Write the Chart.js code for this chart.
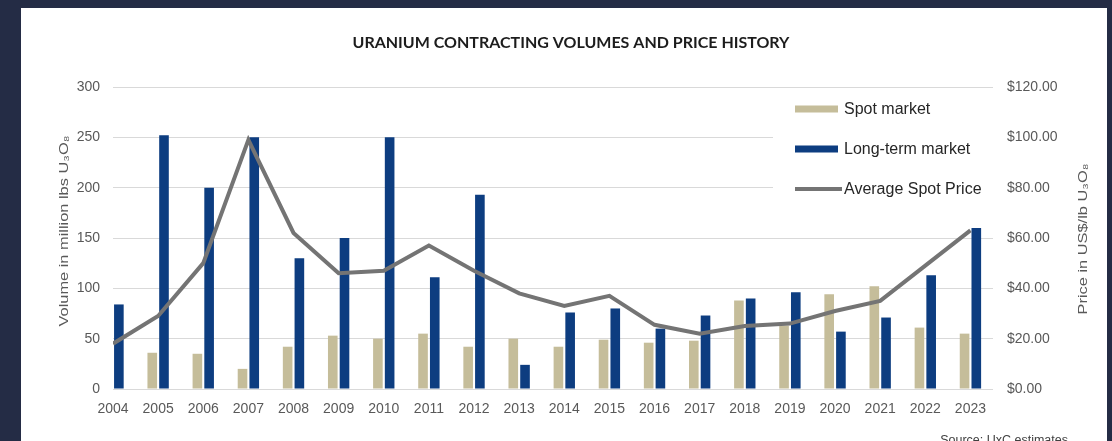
<!DOCTYPE html>
<html>
<head>
<meta charset="utf-8">
<script src="https://cdn.jsdelivr.net/npm/chart.js@4.4.1/dist/chart.umd.min.js"></script>
<style>
  html, body { margin: 0; padding: 0; background: #242c45; }
  #wrap { width: 1112px; height: 441px; }
</style>
</head>
<body>
<div id="wrap"><canvas id="c" width="1112" height="441"></canvas></div>
<script>
// ---- data ----
const years = [2004, 2005, 2006, 2007, 2008, 2009, 2010, 2011, 2012, 2013,
               2014, 2015, 2016, 2017, 2018, 2019, 2020, 2021, 2022, 2023];
const spotMarket = [null, 36, 35, 20, 42, 53, 50, 55, 42, 50,
                    42, 49, 46, 48, 88, 63, 94, 102, 61, 55];
const longTermMarket = [84, 252, 200, 250, 130, 150, 250, 111, 193, 24,
                        76, 80, 60, 73, 90, 96, 57, 71, 113, 160];
const avgSpotPrice = [18, 29, 50, 99, 62, 46, 47, 57, 47, 38,
                      33, 37, 25.5, 22, 25, 26, 31, 35, 49, 63];
const volumeTicks = [0, 50, 100, 150, 200, 250, 300];
const priceTicks = [0, 20, 40, 60, 80, 100, 120];

const titleText = 'URANIUM CONTRACTING VOLUMES AND PRICE HISTORY';
const leftTitle = 'Volume in million lbs U\u2083O\u2088';
const rightTitle = 'Price in US$/lb U\u2083O\u2088';
const sourceText = 'Source: UxC estimates';

const toXY = (arr) => years.map((y, i) => ({ x: y, y: arr[i] }));

const FONT = '"Liberation Sans", Arial, sans-serif';
const TICK_COLOR = '#595959';

function rotatedText(ctx, text, cx, cy) {
  ctx.save();
  ctx.translate(cx, cy);
  ctx.rotate(-Math.PI / 2);
  ctx.scale(1.26, 1);
  ctx.fillText(text, 0, 0);
  ctx.restore();
}

const decor = {
  id: 'decor',
  beforeDraw(chart) {
    const ctx = chart.ctx;
    ctx.save();
    ctx.fillStyle = '#242c45';
    ctx.fillRect(0, 0, chart.width, chart.height);
    ctx.fillStyle = '#ffffff';
    ctx.fillRect(21, 8, 1086, 440);
    // title
    ctx.fillStyle = '#1c1c1c';
    ctx.font = 'bold 16px Lato, "Open Sans", sans-serif';
    ctx.textAlign = 'center';
    ctx.textBaseline = 'middle';
    ctx.fillText(titleText, 571, 43);
    // axis titles (both read bottom-to-top)
    ctx.font = '13px ' + FONT;
    ctx.fillStyle = TICK_COLOR;
    rotatedText(ctx, leftTitle, 64, 231);
    rotatedText(ctx, rightTitle, 1083, 239);
    // source
    ctx.font = '12.5px ' + FONT;
    ctx.fillStyle = '#404040';
    ctx.textAlign = 'right';
    ctx.textBaseline = 'top';
    ctx.fillText(sourceText, 1068, 434);
    ctx.restore();
  },
  beforeDatasetsDraw(chart) {
    const ctx = chart.ctx;
    ctx.save();
    // legend box (covers grid lines)
    ctx.fillStyle = '#ffffff';
    ctx.fillRect(773, 96, 222, 116);
    const items = [
      { ds: chart.data.datasets[1], y: 109, kind: 'bar' },
      { ds: chart.data.datasets[2], y: 149, kind: 'bar' },
      { ds: chart.data.datasets[0], y: 189, kind: 'line' }
    ];
    ctx.font = '16px ' + FONT;
    ctx.textAlign = 'left';
    ctx.textBaseline = 'middle';
    items.forEach(it => {
      if (it.kind === 'bar') {
        ctx.fillStyle = it.ds.backgroundColor;
        ctx.fillRect(795, it.y - 3.5, 43, 7);
      } else {
        ctx.strokeStyle = it.ds.borderColor;
        ctx.lineWidth = 4;
        ctx.beginPath();
        ctx.moveTo(795, it.y);
        ctx.lineTo(842, it.y);
        ctx.stroke();
      }
      ctx.fillStyle = '#262626';
      ctx.fillText(it.ds.label, 844, it.y + 1);
    });
    ctx.restore();
  }
};

new Chart(document.getElementById('c'), {
  data: {
    datasets: [
      {
        type: 'line',
        label: 'Average Spot Price',
        data: toXY(avgSpotPrice),
        yAxisID: 'y1',
        borderColor: '#747474',
        borderWidth: 4,
        pointRadius: 0,
        tension: 0,
        fill: false,
        order: 0
      },
      {
        type: 'bar',
        label: 'Spot market',
        data: toXY(spotMarket),
        yAxisID: 'y',
        backgroundColor: '#c5bd9a',
        categoryPercentage: 0.52,
        barPercentage: 0.82,
        order: 1
      },
      {
        type: 'bar',
        label: 'Long-term market',
        data: toXY(longTermMarket),
        yAxisID: 'y',
        backgroundColor: '#0d3d80',
        categoryPercentage: 0.52,
        barPercentage: 0.82,
        order: 1
      }
    ]
  },
  options: {
    responsive: false,
    animation: false,
    devicePixelRatio: 1,
    layout: { padding: { top: 87, left: 0, right: 0, bottom: 0 } },
    plugins: {
      legend: { display: false },
      tooltip: { enabled: false },
      title: { display: false }
    },
    scales: {
      x: {
        type: 'linear',
        offset: false,
        min: years[0],
        max: years[years.length - 1] + 0.5,
        grid: { display: false, drawTicks: false, offset: false },
        border: { display: false },
        afterFit(scale) { scale.height = 52; },
        afterBuildTicks(scale) { scale.ticks = years.map(v => ({ value: v })); },
        ticks: {
          autoSkip: false,
          maxRotation: 0,
          padding: 12,
          color: TICK_COLOR,
          font: { family: FONT, size: 14 },
          callback: (v) => String(v)
        }
      },
      y: {
        position: 'left',
        min: 0,
        max: 300,
        grid: { color: '#d9d9d9', lineWidth: 1, drawTicks: false },
        border: { display: false },
        afterFit(scale) { scale.width = 113; },
        afterBuildTicks(scale) { scale.ticks = volumeTicks.map(v => ({ value: v })); },
        ticks: {
          padding: 13,
          color: TICK_COLOR,
          font: { family: FONT, size: 14 },
          callback: (v) => String(v)
        }
      },
      y1: {
        position: 'right',
        min: 0,
        max: 120,
        grid: { display: false, drawTicks: false },
        border: { display: false },
        afterFit(scale) { scale.width = 119; },
        afterBuildTicks(scale) { scale.ticks = priceTicks.map(v => ({ value: v })); },
        ticks: {
          padding: 14,
          color: TICK_COLOR,
          font: { family: FONT, size: 14 },
          callback: (v) => '$' + Number(v).toFixed(2)
        }
      }
    }
  },
  plugins: [decor]
});
</script>
</body>
</html>
